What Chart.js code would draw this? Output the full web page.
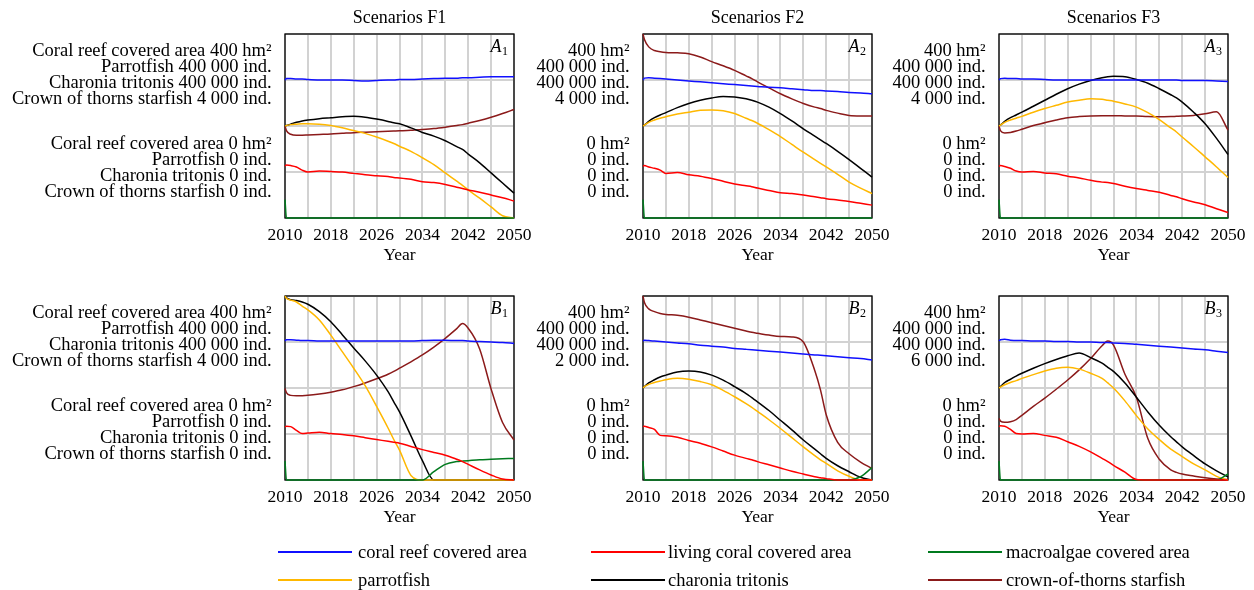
<!DOCTYPE html>
<html><head><meta charset="utf-8">
<script src="https://cdn.jsdelivr.net/npm/chart.js@4.4.1/dist/chart.umd.min.js"></script>
<style>
html,body{margin:0;padding:0;background:#fff;}
#wrap{position:relative;width:1254px;height:590px;overflow:hidden;font-family:'Liberation Serif','Times New Roman',serif;}
#wrap canvas{position:absolute;left:0;top:0;}
.lg-line{position:absolute;height:2.5px;width:74px;}
.lg-text{position:absolute;font-size:18.5px;line-height:20px;color:#000;white-space:nowrap;}
</style></head><body><div id="wrap"></div>
<script>
// ---------- shared axes / labels ----------
const years = [2010, 2010.25, 2011, 2012, 2013, 2014, 2016, 2018, 2020, 2022, 2024, 2026, 2028, 2029, 2030, 2032, 2034, 2036, 2038, 2040, 2041, 2042, 2044, 2046, 2048, 2050];
const tickYears = [2010, 2014, 2018, 2022, 2026, 2030, 2034, 2038, 2042, 2046, 2050];
const labelYears = [2010, 2018, 2026, 2034, 2042, 2050];
const seriesNames = ['coral reef covered area', 'living coral covered area', 'macroalgae covered area', 'parrotfish', 'charonia tritonis', 'crown-of-thorns starfish'];
const seriesColors = ['#1010ff', '#ff0000', '#007a1e', '#ffb800', '#000000', '#8b1a1a'];

// ---------- A1 (Scenarios F1) ----------  area hm², fish thousand ind., starfish ind.
const a1Area     = [300,303,303,302,302,301, 300,300,300,299,298,299, 300,300,301,301,302,303, 304,304,305,305,306,307, 307,307];
const a1Living   = [113,115,114,111,104,100, 102,101,100,97,94,92, 90,88,87,84,79,77, 73,67,64,61,56,50, 44,37];
const a1Algae    = [40,0,0,0,0,0, 0,0,0,0,0,0, 0,0,0,0,0,0, 0,0,0,0,0,0, 0,0];
const a1Parrot   = [200,201,203,204,205,205, 204,201,196,190,184,176, 167,162,156,145,131,116, 98,80,71,61,43,24, 5,0];
const a1Charonia = [200,201,204,208,211,213, 216,218,220,221,219,215, 210,207,205,196,186,178, 168,155,149,139,120,98, 76,54];
const a1Cots     = [2000,1900,1820,1800,1800,1805, 1815,1825,1840,1855,1865,1875, 1885,1890,1895,1910,1925,1945, 1975,2010,2030,2060,2120,2190, 2270,2360];

// ---------- A2 (Scenarios F2) ----------
const a2Area     = [300,304,305,304,303,302, 300,298,296,294,292,290, 288,287,286,284,283,281, 279,277,277,276,275,273, 272,270];
const a2Living   = [112,114,111,108,104,97, 99,94,91,86,80,74, 70,68,65,60,55,53, 50,46,44,42,39,36, 32,28];
const a2Algae    = [40,0,0,0,0,0, 0,0,0,0,0,0, 0,0,0,0,0,0, 0,0,0,0,0,0, 0,0];
const a2Parrot   = [200,202,208,213,217,220, 226,230,234,235,233,227, 217,212,206,192,177,160, 143,127,119,111,95,78, 65,53];
const a2Charonia = [200,202,210,218,224,229, 240,249,256,261,264,263, 259,256,252,241,227,211, 194,178,170,162,145,127, 108,89];
const a2Cots     = [4000,3880,3720,3640,3615,3600, 3590,3570,3500,3400,3310,3210, 3090,3030,2960,2830,2700,2590, 2490,2410,2380,2340,2280,2230, 2220,2220];

// ---------- A3 (Scenarios F3) ----------
const a3Area     = [300,303,304,303,303,302, 302,301,300,300,300,300, 300,300,300,300,300,300, 300,300,300,299,299,299, 298,297];
const a3Living   = [112,114,112,108,102,100, 101,98,96,91,87,82, 78,77,75,69,64,60, 56,49,46,42,35,29, 20,12];
const a3Algae    = [40,0,0,0,0,0, 0,0,0,0,0,0, 0,0,0,0,0,0, 0,0,0,0,0,0, 0,0];
const a3Parrot   = [200,202,208,213,217,221, 230,238,245,252,256,259, 258,256,254,248,241,229, 214,196,187,176,155,133, 111,88];
const a3Charonia = [200,202,210,218,224,230, 243,256,269,281,291,299, 305,307,308,307,301,293, 281,268,261,252,230,205, 173,138];
const a3Cots     = [2000,1900,1850,1860,1890,1930, 2010,2070,2130,2180,2205,2220, 2225,2225,2225,2220,2215,2205, 2200,2205,2210,2215,2230,2265, 2310,1910];

// ---------- B1 ----------
const b1Area     = [302,305,305,304,303,303, 302,302,302,302,302,302, 302,302,302,302,303,304, 304,303,303,302,301,300, 299,297];
const b1Living   = [115,117,116,108,101,102, 104,101,99,96,92,88, 84,82,80,73,66,60, 54,45,40,34,22,11, 2,0];
const b1Algae    = [41,0,0,0,0,0, 0,0,0,0,0,0, 0,0,0,0,0,18, 34,40,41,42,44,45, 46,47];
const b1Parrot   = [400,395,391,387,378,370, 348,315,279,243,205,160, 113,88,65,10,0,0, 0,0,0,0,0,0, 0,0];
const b1Charonia = [400,396,392,390,387,382, 366,344,316,287,259,228, 192,170,148,96,42,0, 0,0,0,0,0,0, 0,0];
const b1Cots     = [1990,1900,1840,1830,1832,1840, 1870,1910,1960,2030,2110,2200, 2300,2360,2430,2570,2720,2890, 3080,3290,3400,3300,2850,1980, 1250,870];

// ---------- B2 ----------
const b2Area     = [302,304,303,302,301,300, 298,296,293,291,289,286, 284,283,282,280,278,276, 274,272,271,270,268,266, 264,261];
const b2Living   = [116,117,114,110,97,96, 93,86,80,72,63,54, 47,44,40,33,26,19, 13,7,5,3,0,0, 0,0];
const b2Algae    = [41,0,0,0,0,0, 0,0,0,0,0,0, 0,0,0,0,0,0, 0,0,0,0,0,0, 7,27];
const b2Parrot   = [200,203,208,212,215,218, 221,219,214,207,195,181, 166,158,149,131,112,92, 72,53,44,36,20,8, 0,0];
const b2Charonia = [200,203,211,218,224,228, 235,237,235,228,217,203, 188,179,170,151,130,109, 87,67,57,47,31,18, 6,0];
const b2Cots     = [2000,1930,1860,1830,1810,1800, 1790,1770,1740,1710,1680,1650, 1620,1605,1595,1575,1560,1555, 1500,1190,980,710,410,285, 195,125];

// ---------- B3 ----------
const b3Area     = [302,305,306,304,303,303, 302,302,301,301,300,300, 299,299,298,297,295,293, 291,289,288,287,285,283, 280,277];
const b3Living   = [116,118,117,110,101,100, 101,97,93,83,73,61, 47,40,32,17,1,0, 0,0,0,0,0,0, 0,0];
const b3Algae    = [41,0,0,0,0,0, 0,0,0,0,0,0, 0,0,0,0,0,0, 0,0,0,0,0,0, 0,13];
const b3Parrot   = [200,202,207,212,216,221, 229,237,243,245,241,232, 221,211,200,172,140,111, 88,67,59,51,35,22, 8,0];
const b3Charonia = [200,203,212,219,226,232, 243,253,262,270,276,266, 254,245,236,211,180,148, 119,94,83,72,53,35, 20,7];
const b3Cots     = [2010,1920,1880,1900,1970,2110, 2400,2670,2960,3260,3590,3960, 4380,4530,4400,3450,2700,1350, 675,330,250,195,130,70, 30,15];

// ---------- axis label texts ----------
const longTop    = ['Coral reef covered area 400 hm\u00B2', 'Parrotfish 400 000 ind.', 'Charonia tritonis 400 000 ind.', 'Crown of thorns starfish 4 000 ind.'];
const longBottom = ['Coral reef covered area 0 hm\u00B2', 'Parrotfish 0 ind.', 'Charonia tritonis 0 ind.', 'Crown of thorns starfish 0 ind.'];
const shortTop4  = ['400 hm\u00B2', '400 000 ind.', '400 000 ind.', '4 000 ind.'];
const shortTop2  = ['400 hm\u00B2', '400 000 ind.', '400 000 ind.', '2 000 ind.'];
const shortTop6  = ['400 hm\u00B2', '400 000 ind.', '400 000 ind.', '6 000 ind.'];
const shortBottom = ['0 hm\u00B2', '0 ind.', '0 ind.', '0 ind.'];
const areaMax = 400, fishMax = 400;

const panels = [
  {title:'Scenarios F1', tag:'A', sub:'1', cotsMax:4000, top:longTop,  bottom:longBottom,  data:[a1Area,a1Living,a1Algae,a1Parrot,a1Charonia,a1Cots], left:285, ptop:34},
  {title:'Scenarios F2', tag:'A', sub:'2', cotsMax:4000, top:shortTop4, bottom:shortBottom, data:[a2Area,a2Living,a2Algae,a2Parrot,a2Charonia,a2Cots], left:643, ptop:34},
  {title:'Scenarios F3', tag:'A', sub:'3', cotsMax:4000, top:shortTop4, bottom:shortBottom, data:[a3Area,a3Living,a3Algae,a3Parrot,a3Charonia,a3Cots], left:999, ptop:34},
  {title:null, tag:'B', sub:'1', cotsMax:4000, top:longTop,  bottom:longBottom,  data:[b1Area,b1Living,b1Algae,b1Parrot,b1Charonia,b1Cots], left:285, ptop:296},
  {title:null, tag:'B', sub:'2', cotsMax:2000, top:shortTop2, bottom:shortBottom, data:[b2Area,b2Living,b2Algae,b2Parrot,b2Charonia,b2Cots], left:643, ptop:296},
  {title:null, tag:'B', sub:'3', cotsMax:6000, top:shortTop6, bottom:shortBottom, data:[b3Area,b3Living,b3Algae,b3Parrot,b3Charonia,b3Cots], left:999, ptop:296}
];
const PW = 229, PH = 184, XAX = 50, W = 1254, H = 590;
const axisOf = ['yArea','yArea','yArea','yFish','yFish','yCots'];
const SERIF = '"Liberation Serif", "Times New Roman", serif';
Chart.defaults.font.family = SERIF;
Chart.defaults.color = '#000';

function makePlugin(p) {
  return {
    id: 'panelText',
    beforeDatasetsDraw(chart) {
      const ca = chart.chartArea, ctx = chart.ctx;
      ctx.save();
      ctx.strokeStyle = '#000';
      ctx.lineWidth = 1.3;
      ctx.strokeRect(ca.left, ca.top, ca.right - ca.left, ca.bottom - ca.top);
      ctx.restore();
    },
    afterDraw(chart) {
      const ca = chart.chartArea, ctx = chart.ctx;
      ctx.save();
      ctx.fillStyle = '#000';
      ctx.textBaseline = 'middle';
      if (p.title) {
        ctx.font = '18px ' + SERIF;
        ctx.textAlign = 'center';
        ctx.fillText(p.title, (ca.left + ca.right) / 2, ca.top - 16);
      }
      ctx.font = '18.5px ' + SERIF;
      ctx.textAlign = 'right';
      const xr = ca.left - 13.5;
      p.top.forEach((t, i) => ctx.fillText(t, xr, ca.top + 16.8 + 16 * i));
      p.bottom.forEach((t, i) => ctx.fillText(t, xr, ca.top + 110.5 + 16 * i));
      // panel tag, e.g. A1 with subscript
      ctx.textBaseline = 'alphabetic';
      ctx.textAlign = 'left';
      ctx.font = '12px ' + SERIF;
      const sw = ctx.measureText(p.sub).width;
      ctx.font = 'italic 18px ' + SERIF;
      const tw = ctx.measureText(p.tag).width;
      const xe = ca.right - 6;
      ctx.fillText(p.tag, xe - sw - tw - 0.5, ca.top + 18);
      ctx.font = '12px ' + SERIF;
      ctx.fillText(p.sub, xe - sw, ca.top + 21);
      ctx.restore();
    }
  };
}

const wrap = document.getElementById('wrap');
panels.forEach(p => {
  const cv = document.createElement('canvas');
  cv.width = W; cv.height = H;
  cv.style.width = W + 'px'; cv.style.height = H + 'px';
  wrap.appendChild(cv);
  const grid = {color:'#d2d2d2', lineWidth:2, drawTicks:false};
  new Chart(cv, {
    type: 'line',
    data: {
      datasets: p.data.map((arr, i) => ({
        label: seriesNames[i],
        data: arr.map((v, k) => ({x: years[k], y: v})),
        borderColor: seriesColors[i],
        backgroundColor: seriesColors[i],
        borderWidth: 1.5,
        pointRadius: 0,
        fill: false,
        cubicInterpolationMode: 'monotone',
        yAxisID: axisOf[i],
        clip: 4
      }))
    },
    options: {
      responsive: false,
      animation: false,
      devicePixelRatio: 1,
      events: [],
      layout: {padding: {left: p.left, top: p.ptop, right: W - p.left - PW, bottom: H - p.ptop - PH - XAX}},
      plugins: {legend: {display: false}, tooltip: {enabled: false}},
      scales: {
        x: {
          type: 'linear', min: 2010, max: 2050,
          afterBuildTicks: s => { s.ticks = tickYears.map(v => ({value: v})); },
          afterFit: s => { s.height = XAX; },
          ticks: {autoSkip: false, maxRotation: 0, padding: 7, font: {size: 17.5}, color: '#000',
                  callback: v => labelYears.includes(v) ? String(v) : ''},
          grid: grid,
          border: {display: false},
          title: {display: true, text: 'Year', font: {size: 17.5}, color: '#000', padding: {top: 0, bottom: 2.5}}
        },
        yArea: {
          type: 'linear', position: 'left', min: 0, max: areaMax,
          afterFit: s => { s.width = 0; },
          ticks: {display: false, stepSize: 100},
          grid: grid,
          border: {display: false}
        },
        yFish: {type: 'linear', display: false, min: 0, max: fishMax},
        yCots: {type: 'linear', display: false, min: 0, max: p.cotsMax}
      }
    },
    plugins: [makePlugin(p)]
  });
});

// legend (HTML)
const lgLineX = [278, 591, 928], lgTextX = [358, 668, 1006], lgRowY = [552, 580];
seriesNames.forEach((name, i) => {
  const col = i % 3, row = Math.floor(i / 3);
  const ln = document.createElement('div');
  ln.className = 'lg-line';
  ln.style.left = lgLineX[col] + 'px';
  ln.style.top = (lgRowY[row] - 1.25) + 'px';
  ln.style.background = seriesColors[i];
  wrap.appendChild(ln);
  const tx = document.createElement('div');
  tx.className = 'lg-text';
  tx.style.left = lgTextX[col] + 'px';
  tx.style.top = (lgRowY[row] - 10) + 'px';
  tx.textContent = name;
  wrap.appendChild(tx);
});
</script>
</body></html>
